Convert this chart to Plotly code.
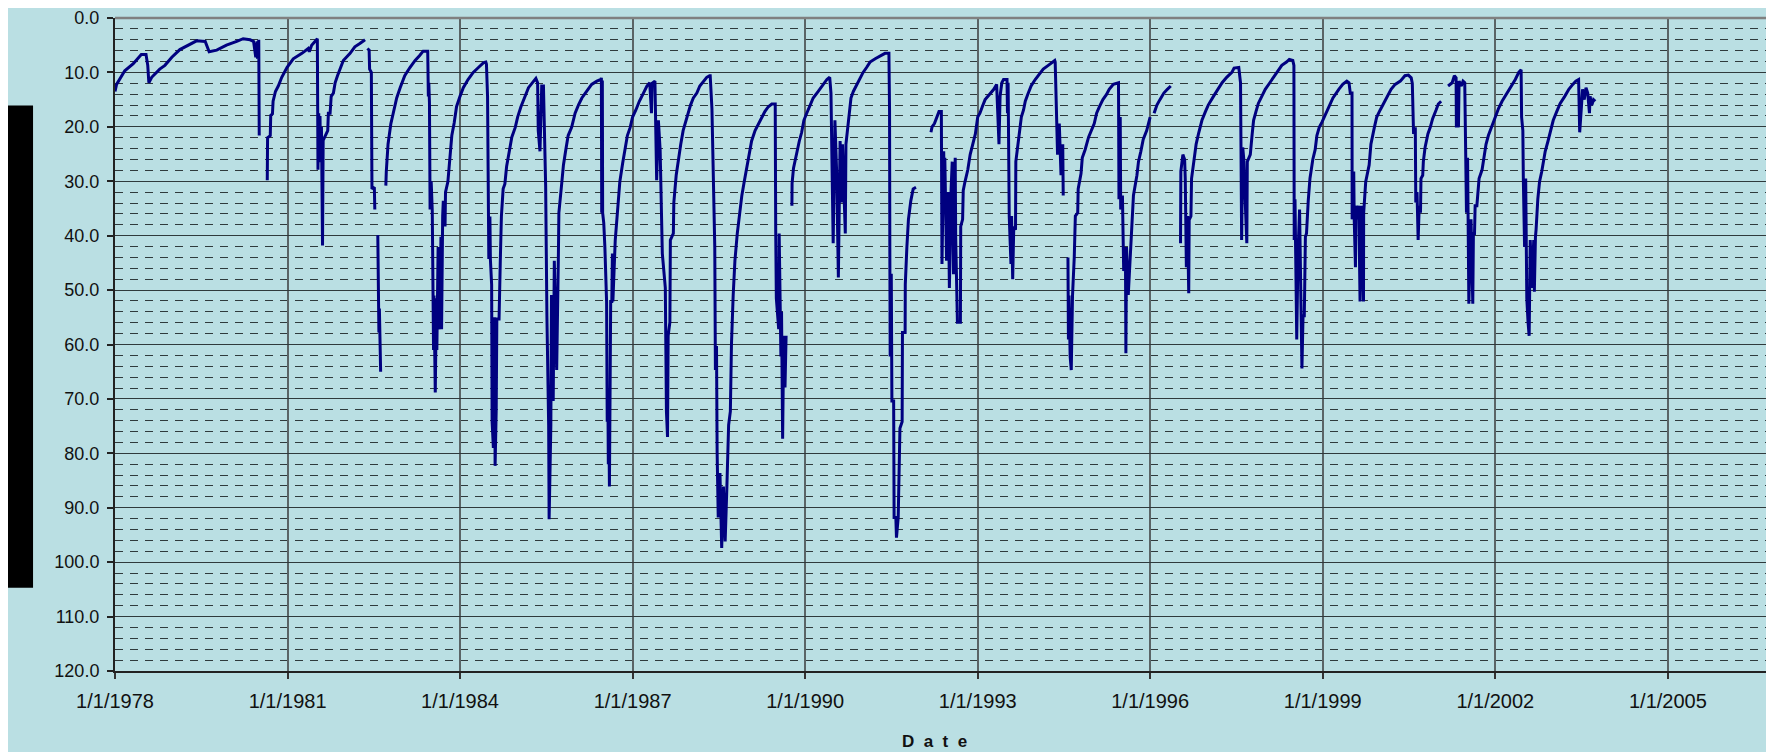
from datetime import datetime, timedelta
import plotly.graph_objects as go

# Depth to water level (ft below land surface).
# Dates are decimal years; None marks a break in the record.
dec_year = [
    1978.00, 1978.03, 1978.17, 1978.32, 1978.46, 1978.54, 1978.57, 1978.59, 1978.64, 1978.78,
    1978.87, 1978.99, 1979.13, 1979.33, 1979.42, 1979.57, 1979.64, 1979.77, 1979.94, 1980.12,
    1980.23, 1980.35, 1980.41, 1980.45, 1980.47, 1980.48, 1980.49, 1980.50, 1980.51, None,
    1980.65, 1980.655, 1980.70, 1980.71, 1980.74, 1980.75, 1980.79, 1980.84, 1980.90, 1980.99,
    1981.10, 1981.25, 1981.36, 1981.38, 1981.42, 1981.50, 1981.52, 1981.53, 1981.545, 1981.555,
    1981.565, 1981.575, 1981.59, 1981.61, 1981.62, 1981.70, 1981.71, 1981.74, 1981.76, 1981.80,
    1981.83, 1981.87, 1981.91, 1981.97, 1982.09, 1982.17, 1982.26, 1982.35, None,
    1982.39, 1982.42, 1982.43, 1982.46, 1982.47, 1982.51, 1982.52, None,
    1982.57, 1982.58, 1982.59, 1982.60, 1982.62, None,
    1982.71, 1982.72, 1982.75, 1982.80, 1982.84, 1982.90, 1982.96, 1983.04, 1983.13, 1983.22,
    1983.30, 1983.36, 1983.44, 1983.45, 1983.46, 1983.47, 1983.48, 1983.50, 1983.52, 1983.54,
    1983.55, 1983.57, 1983.59, 1983.60, 1983.62, 1983.64, 1983.65, 1983.67, 1983.68, 1983.70,
    1983.71, 1983.74, 1983.75, 1983.79, 1983.83, 1983.86, 1983.90, 1983.94, 1984.00, 1984.06,
    1984.14, 1984.23, 1984.32, 1984.41, 1984.45, 1984.46, 1984.48, 1984.49, 1984.50, 1984.52,
    1984.53, 1984.55, 1984.56, 1984.58, 1984.60, 1984.61, 1984.63, 1984.64, 1984.68, 1984.70,
    1984.72, 1984.75, 1984.78, 1984.81, 1984.85, 1984.90, 1984.96, 1985.00, 1985.06, 1985.13,
    1985.19, 1985.28, 1985.32, 1985.35, 1985.36, 1985.39, 1985.42, 1985.45, 1985.47, 1985.49,
    1985.51, 1985.54, 1985.55, 1985.58, 1985.59, 1985.62, 1985.64, 1985.68, 1985.71, 1985.72,
    1985.77, 1985.80, 1985.84, 1985.88, 1985.94, 1986.00, 1986.06, 1986.12, 1986.20, 1986.29,
    1986.38, 1986.45, 1986.46, 1986.465, 1986.475, 1986.48, 1986.50, 1986.52, 1986.55, 1986.56,
    1986.57, 1986.58, 1986.59, 1986.60, 1986.62, 1986.64, 1986.65, 1986.66, 1986.70, 1986.74,
    1986.78, 1986.83, 1986.87, 1986.91, 1986.96, 1987.00, 1987.06, 1987.12, 1987.19, 1987.25,
    1987.30, 1987.33, 1987.34, 1987.39, 1987.42, 1987.45, 1987.48, 1987.51, 1987.52, 1987.57,
    1987.58, 1987.59, 1987.61, 1987.62, 1987.65, 1987.66, 1987.71, 1987.72, 1987.76, 1987.80,
    1987.84, 1987.88, 1987.93, 1987.97, 1988.01, 1988.06, 1988.12, 1988.17, 1988.23, 1988.29,
    1988.34, 1988.35, 1988.38, 1988.41, 1988.43, 1988.44, 1988.46, 1988.47, 1988.49, 1988.52,
    1988.55, 1988.58, 1988.61, 1988.64, 1988.67, 1988.70, 1988.72, 1988.75, 1988.78, 1988.82,
    1988.86, 1988.90, 1988.94, 1988.99, 1989.03, 1989.07, 1989.13, 1989.19, 1989.25, 1989.30,
    1989.36, 1989.42, 1989.46, 1989.48, 1989.49, 1989.50, 1989.54, 1989.55, 1989.58, 1989.59,
    1989.61, 1989.63, 1989.65, 1989.67, None,
    1989.77, 1989.775, 1989.80, 1989.86, 1989.90, 1989.94, 1989.98, 1990.03, 1990.09, 1990.14,
    1990.23, 1990.32, 1990.38, 1990.43, 1990.45, 1990.49, 1990.52, 1990.55, 1990.58, 1990.61,
    1990.64, 1990.65, 1990.70, 1990.71, 1990.77, 1990.80, 1990.84, 1990.90, 1990.96, 1991.01,
    1991.07, 1991.13, 1991.22, 1991.30, 1991.39, 1991.46, 1991.47, 1991.475, 1991.48, 1991.50,
    1991.51, 1991.54, 1991.55, 1991.58, 1991.59, 1991.62, 1991.63, 1991.65, 1991.69, 1991.695,
    1991.74, 1991.745, 1991.77, 1991.80, 1991.84, 1991.88, 1991.93, None,
    1992.19, 1992.21, 1992.25, 1992.29, 1992.33, 1992.37, 1992.38, 1992.41, 1992.42, 1992.43,
    1992.46, 1992.49, 1992.51, 1992.54, 1992.56, 1992.58, 1992.61, 1992.62, 1992.65, 1992.70,
    1992.705, 1992.74, 1992.75, 1992.78, 1992.83, 1992.87, 1992.91, 1992.96, 1993.00, 1993.04,
    1993.08, 1993.13, 1993.20, 1993.28, 1993.33, 1993.35, 1993.37, 1993.39, 1993.42, 1993.45,
    1993.51, 1993.52, 1993.53, 1993.55, 1993.58, 1993.59, 1993.61, 1993.63, 1993.66, 1993.665,
    1993.71, 1993.76, 1993.80, 1993.83, 1993.87, 1993.93, 1994.00, 1994.07, 1994.14, 1994.23,
    1994.30, 1994.34, 1994.35, 1994.36, 1994.38, 1994.39, 1994.42, 1994.45, 1994.48, 1994.49, None,
    1994.57, 1994.58, 1994.59, 1994.61, 1994.63, 1994.65, 1994.68, 1994.70, 1994.74, 1994.75,
    1994.80, 1994.82, 1994.87, 1994.93, 1995.03, 1995.07, 1995.12, 1995.18, 1995.24, 1995.29,
    1995.36, 1995.42, 1995.45, 1995.46, 1995.48, 1995.49, 1995.52, 1995.54, 1995.57, 1995.58,
    1995.59, 1995.62, 1995.65, 1995.68, 1995.71, 1995.77, 1995.80, 1995.84, 1995.88, 1995.94,
    1996.00, None,
    1996.07, 1996.12, 1996.17, 1996.24, 1996.30, 1996.36, None,
    1996.53, 1996.535, 1996.57, 1996.60, 1996.61, 1996.63, 1996.65, 1996.67, 1996.68, 1996.71,
    1996.72, 1996.77, 1996.80, 1996.84, 1996.90, 1996.96, 1997.01, 1997.10, 1997.17, 1997.25,
    1997.33, 1997.42, 1997.46, 1997.54, 1997.57, 1997.59, 1997.61, 1997.63, 1997.65, 1997.68,
    1997.69, 1997.74, 1997.77, 1997.80, 1997.84, 1997.88, 1997.94, 1998.00, 1998.08, 1998.14,
    1998.21, 1998.29, 1998.37, 1998.42, 1998.48, 1998.50, 1998.505, 1998.52, 1998.55, 1998.57,
    1998.60, 1998.62, 1998.64, 1998.66, 1998.68, 1998.70, 1998.72, 1998.75, 1998.78, 1998.83,
    1998.87, 1998.90, 1998.94, 1998.99, 1999.04, 1999.10, 1999.18, 1999.28, 1999.35, 1999.42,
    1999.46, 1999.48, 1999.51, 1999.515, 1999.54, 1999.55, 1999.57, 1999.58, 1999.61, 1999.63,
    1999.65, 1999.68, 1999.71, 1999.715, 1999.75, 1999.81, 1999.84, 1999.90, 1999.94, 2000.00,
    2000.06, 2000.12, 2000.19, 2000.26, 2000.35, 2000.43, 2000.49, 2000.54, 2000.56, 2000.58,
    2000.61, 2000.62, 2000.64, 2000.66, 2000.68, 2000.70, 2000.71, 2000.74, 2000.75, 2000.78,
    2000.83, 2000.87, 2000.91, 2000.97, 2001.01, 2001.06, None,
    2001.18, 2001.25, 2001.29, 2001.32, 2001.325, 2001.34, 2001.36, 2001.37, 2001.41, 2001.44,
    2001.47, 2001.48, 2001.50, 2001.52, 2001.54, 2001.57, 2001.58, 2001.61, 2001.62, 2001.64,
    2001.65, 2001.68, 2001.72, 2001.77, 2001.84, 2001.88, 2001.93, 2001.99, 2002.06, 2002.12,
    2002.19, 2002.26, 2002.35, 2002.41, 2002.45, 2002.46, 2002.48, 2002.49, 2002.51, 2002.53,
    2002.55, 2002.57, 2002.59, 2002.61, 2002.64, 2002.67, 2002.68, 2002.70, 2002.71, 2002.74,
    2002.77, 2002.81, 2002.87, 2002.92, 2002.96, 2003.01, 2003.07, 2003.13, 2003.21, 2003.28,
    2003.35, 2003.40, 2003.45, 2003.47, 2003.50, 2003.52, 2003.55, 2003.58, 2003.61, 2003.64,
    2003.65, 2003.68, 2003.71, 2003.74,
]

depth = [
    13.5, 12.2, 9.7, 8.4, 6.7, 6.7, 8.7, 11.9, 10.9, 9.4,
    8.7, 7.2, 5.8, 4.7, 4.2, 4.3, 6.2, 5.9, 5.0, 4.3,
    3.8, 4.0, 4.3, 7.2, 4.3, 7.5, 4.2, 4.0, 21.6, None,
    29.8, 22.0, 21.6, 17.9, 17.6, 15.3, 13.5, 12.5, 10.9, 9.1,
    7.5, 6.5, 5.6, 6.2, 5.0, 4.0, 3.8, 27.9, 17.5, 26.5,
    18.0, 25.5, 20.0, 41.8, 22.5, 20.7, 17.5, 17.5, 14.4, 13.8,
    11.9, 10.6, 9.4, 7.8, 6.5, 5.3, 4.7, 4.0, None,
    5.6, 5.9, 9.4, 10.0, 31.4, 31.1, 35.2, None,
    39.9, 49.6, 57.8, 53.4, 65.0, None,
    30.8, 28.2, 23.2, 19.4, 17.5, 14.7, 12.8, 10.6, 9.1, 7.8,
    6.9, 6.1, 6.1, 14.4, 11.9, 15.5, 35.2, 30.0, 35.5, 61.0,
    51.0, 68.8, 51.5, 61.0, 42.1, 56.6, 57.2, 40.2, 57.2, 36.4,
    33.6, 38.3, 32.0, 30.1, 25.1, 21.6, 19.3, 16.3, 14.4, 12.8,
    11.3, 10.0, 9.1, 8.2, 8.1, 8.5, 14.4, 35.8, 44.3, 36.5,
    44.3, 49.0, 74.2, 79.0, 55.0, 82.3, 72.0, 55.3, 55.3, 44.6,
    36.4, 31.4, 30.5, 27.3, 24.5, 21.9, 20.1, 18.2, 16.3, 14.4,
    12.8, 11.6, 11.1, 11.9, 20.7, 24.5, 12.5, 12.5, 24.5, 30.8,
    54.7, 74.8, 92.1, 74.8, 50.9, 70.4, 44.6, 64.7, 43.3, 35.8,
    30.1, 27.0, 24.2, 21.6, 20.1, 17.5, 16.0, 14.7, 13.5, 12.2,
    11.6, 11.3, 11.0, 35.8, 11.5, 35.8, 37.7, 42.0, 52.1, 74.2,
    68.0, 82.0, 76.0, 86.1, 52.1, 52.1, 43.3, 52.1, 40.8, 34.5,
    30.1, 26.7, 23.8, 21.6, 20.1, 18.2, 16.9, 15.3, 13.8, 12.5,
    11.9, 17.5, 12.0, 11.6, 29.8, 18.8, 24.2, 37.0, 43.3, 49.6,
    62.2, 72.3, 77.0, 58.4, 55.9, 40.8, 39.6, 33.9, 28.9, 25.7,
    23.2, 20.7, 18.8, 17.2, 16.0, 14.7, 13.8, 12.5, 11.6, 10.9,
    10.6, 10.6, 16.6, 36.4, 42.1, 64.7, 60.3, 79.8, 91.8, 83.6,
    97.4, 86.1, 96.2, 86.1, 74.8, 72.3, 60.0, 50.9, 44.6, 39.6,
    35.8, 32.6, 30.1, 27.0, 24.5, 22.6, 20.7, 19.4, 18.2, 17.2,
    16.3, 15.8, 15.8, 15.8, 38.9, 51.5, 57.2, 39.6, 62.2, 54.0,
    77.3, 58.4, 67.9, 58.4, None,
    34.5, 30.4, 27.6, 24.5, 22.6, 21.0, 18.8, 17.5, 16.0, 14.7,
    13.5, 12.2, 11.3, 10.9, 13.8, 41.4, 18.8, 28.2, 47.7, 22.6,
    33.9, 23.2, 39.6, 23.2, 16.9, 14.7, 13.5, 12.2, 10.9, 10.0,
    9.1, 8.1, 7.5, 7.0, 6.5, 6.5, 17.0, 44.6, 62.2, 47.0,
    70.4, 70.4, 91.8, 91.8, 95.5, 91.8, 86.0, 75.4, 74.2, 57.8,
    57.8, 49.0, 42.1, 37.0, 33.6, 31.4, 31.1, None,
    21.0, 20.0, 19.4, 18.2, 17.2, 17.2, 45.2, 24.5, 31.4, 25.7,
    44.6, 32.0, 49.6, 31.4, 26.4, 47.1, 25.7, 40.2, 55.9, 55.9,
    38.3, 37.0, 31.7, 30.1, 27.9, 25.1, 23.2, 21.3, 18.2, 17.5,
    16.3, 15.0, 14.1, 13.1, 12.2, 17.0, 23.2, 14.4, 11.9, 11.3,
    11.3, 17.5, 11.9, 36.4, 45.2, 36.4, 48.0, 38.3, 38.9, 26.4,
    21.9, 18.2, 16.9, 15.3, 14.1, 12.5, 11.3, 10.3, 9.4, 8.7,
    8.1, 7.8, 8.1, 11.9, 20.1, 25.1, 19.4, 28.9, 23.2, 32.6, None,
    44.0, 59.1, 51.0, 62.2, 64.7, 51.0, 44.0, 36.4, 35.8, 31.4,
    28.6, 25.7, 24.2, 21.9, 19.4, 17.5, 16.3, 15.0, 14.1, 13.1,
    12.2, 11.9, 11.9, 33.3, 18.2, 35.2, 32.6, 46.5, 42.1, 61.6,
    42.1, 50.9, 44.0, 38.3, 32.6, 28.9, 26.4, 24.5, 22.3, 20.7,
    18.2, None,
    17.5, 16.0, 15.0, 13.8, 13.1, 12.5, None,
    41.4, 28.2, 25.1, 26.0, 29.5, 45.8, 36.4, 50.6, 37.1, 36.4,
    29.5, 25.7, 23.2, 21.3, 18.8, 17.2, 16.0, 14.4, 13.1, 11.9,
    10.9, 10.0, 9.2, 9.1, 11.9, 40.8, 23.8, 26.0, 33.0, 41.4,
    26.4, 25.1, 21.6, 18.8, 17.2, 15.7, 14.4, 13.1, 11.9, 10.9,
    10.0, 8.7, 8.1, 7.6, 7.8, 8.7, 40.8, 33.3, 59.1, 43.3,
    35.2, 51.5, 64.4, 54.7, 54.7, 40.2, 39.6, 33.6, 29.5, 26.0,
    24.2, 21.6, 20.1, 19.1, 17.9, 16.3, 14.7, 13.1, 12.2, 11.6,
    11.9, 13.8, 13.8, 37.0, 28.2, 37.0, 45.8, 34.5, 37.0, 34.5,
    52.1, 34.5, 52.1, 35.8, 30.1, 27.0, 23.2, 20.1, 18.2, 16.9,
    15.7, 14.4, 13.1, 12.2, 11.6, 10.6, 10.5, 11.0, 12.0, 21.3,
    20.1, 33.9, 32.0, 40.8, 34.5, 35.8, 29.5, 28.9, 26.4, 23.8,
    21.3, 20.1, 18.5, 16.9, 15.8, 15.3, None,
    12.5, 11.9, 10.6, 11.0, 20.1, 11.9, 20.1, 11.6, 12.5, 11.6,
    11.9, 24.5, 35.8, 25.7, 52.5, 39.6, 37.0, 52.5, 39.6, 39.6,
    34.5, 34.5, 29.5, 27.9, 23.2, 21.6, 20.1, 18.5, 16.6, 15.3,
    14.1, 12.8, 11.3, 10.0, 9.5, 18.2, 20.7, 29.5, 42.1, 29.5,
    51.5, 55.9, 58.4, 40.8, 49.6, 40.8, 50.3, 40.2, 38.9, 33.3,
    30.1, 28.2, 24.5, 22.6, 20.7, 18.8, 17.2, 15.7, 14.4, 13.1,
    12.2, 11.6, 11.3, 21.0, 16.3, 13.1, 15.0, 12.8, 13.8, 17.5,
    14.4, 16.0, 15.0, 15.3,
]

tick_years = [1978, 1981, 1984, 1987, 1990, 1993, 1996, 1999, 2002, 2005]
tick_labels = [f"1/1/{y}" for y in tick_years]

BG = "#BADFE3"


def to_date(y):
    if y is None:
        return None
    year = int(y)
    start = datetime(year, 1, 1)
    length = (datetime(year + 1, 1, 1) - start).days
    return (start + timedelta(days=(y - year) * length)).strftime("%Y-%m-%d")


dates = [to_date(y) for y in dec_year]

fig = go.Figure()
fig.add_trace(go.Scatter(
    x=dates, y=depth, mode="lines", connectgaps=False,
    line=dict(color="#000080", width=3), showlegend=False,
))

# page body has an 8px margin, so the figure is sized to fit the window
fig.update_layout(
    width=1766, height=744,
    paper_bgcolor=BG, plot_bgcolor=BG,
    margin=dict(l=107, r=0, t=10, b=81),
    font=dict(family="Liberation Sans, Arial, sans-serif", color="#111111"),
)

fig.update_xaxes(
    type="date",
    range=["1978-01-01", "2006-11-06"],
    tickvals=[f"{y}-01-01" for y in tick_years],
    ticktext=tick_labels,
    tickfont=dict(size=20),
    ticks="outside", ticklen=6, tickcolor="#333333", tickwidth=1.5,
    ticklabelstandoff=5,
    showgrid=True, gridcolor="#5a6466", gridwidth=1.5,
    showline=True, linecolor="#222222", linewidth=2,
    zeroline=False,
)

fig.update_yaxes(
    range=[120, 0],
    tick0=0, dtick=10, tickformat=".1f",
    tickfont=dict(size=18),
    ticks="outside", ticklen=6, tickcolor="#222222", tickwidth=1.5,
    ticklabelstandoff=4,
    showgrid=True, gridcolor="#2f3a3c", gridwidth=1,
    minor=dict(dtick=2, showgrid=True, gridcolor="#2f3a3c", gridwidth=1, griddash="8px,7px"),
    showline=True, linecolor="#222222", linewidth=2,
    zeroline=False,
)

# gray frame along the top edge of the plot area
fig.add_shape(type="line", xref="paper", yref="paper", x0=0, x1=1, y0=1, y1=1,
              line=dict(color="#808080", width=2.5))

# blacked-out y-axis title
fig.add_shape(type="rect", xref="paper", yref="y", x0=-0.0657, x1=-0.0494, y0=16.1, y1=104.7,
              fillcolor="black", line=dict(width=0))

fig.add_annotation(
    text="<b>D\u00a0\u00a0a\u00a0\u00a0t\u00a0\u00a0e</b>",
    xref="paper", yref="paper", x=0.4937, y=0, yshift=-70,
    xanchor="center", yanchor="middle", showarrow=False,
    font=dict(size=17, color="#111111"),
)

fig.write_html("out.html")
